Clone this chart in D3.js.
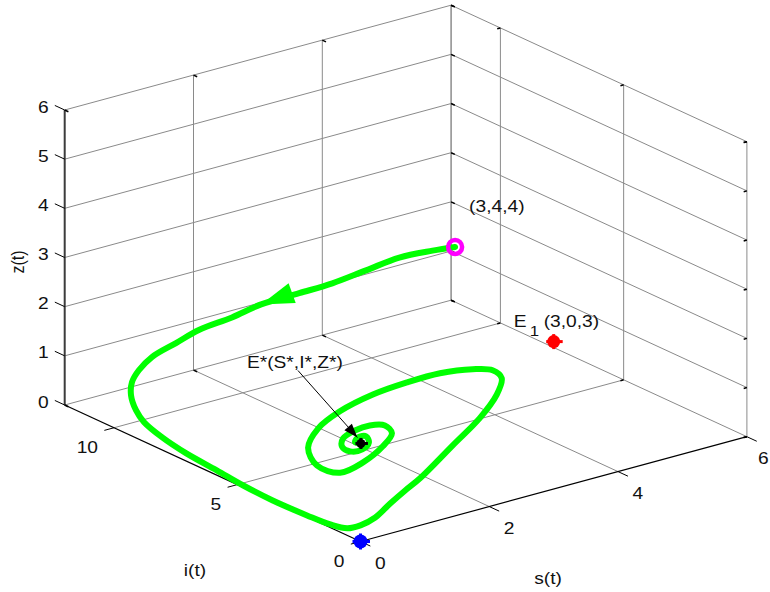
<!DOCTYPE html>
<html>
<head>
<meta charset="utf-8">
<title>trajectory</title>
<script src="https://cdn.jsdelivr.net/npm/d3@7/dist/d3.min.js"></script>
<style>
body { margin: 0; background: #fff; }
text { font-family: "Liberation Sans", Arial, Helvetica, sans-serif; font-size: 16px; fill: #111; }
</style>
</head>
<body>
<script>
var width = 770,
    height = 592;

// axis ticks
var sTicks = [0, 2, 4, 6],
    iTicks = [0, 5, 10],
    zTicks = [0, 1, 2, 3, 4, 5, 6];

// trajectory (s, i, z)
var sTraj = [3.00, 2.91, 2.75, 2.57, 2.33, 2.11, 1.76, 1.46, 1.13, 0.89, 0.62, 0.42, 0.31, 0.23, 0.15, 0.10,
             0.06, 0.04, 0.03, 0.01, 0.00, 0.02, 0.045, 0.12, 0.29, 0.57, 0.97, 1.31, 1.61, 2.42, 3.00, 3.39,
             3.54, 3.41, 3.08, 2.52, 1.95, 1.36, 0.89, 0.52, 0.38, 0.35, 0.53, 0.92, 1.35, 1.56, 1.50, 1.30,
             1.10, 0.89, 0.82, 0.85, 1.00, 1.16, 1.20, 1.10, 1.01, 1.04];
var iTraj = [4.00, 4.68, 5.61, 6.49, 7.23, 8.00, 8.63, 9.03, 9.51, 9.81, 10.08, 10.09, 10.08, 9.91, 9.50, 9.04,
             8.20, 7.17, 5.91, 4.80, 3.56, 2.22, 1.34, 0.85, 0.76, 0.89, 1.33, 1.61, 1.79, 2.58, 3.00, 3.34,
             3.52, 3.55, 3.50, 3.36, 3.21, 3.05, 3.16, 3.08, 3.12, 2.68, 2.21, 2.30, 2.62, 2.80, 2.93, 3.02,
             3.10, 3.03, 2.89, 2.64, 2.54, 2.69, 2.91, 2.97, 2.86, 2.70];
var zTraj = [4.00, 3.80, 3.50, 3.10, 2.75, 2.45, 2.20, 1.95, 1.70, 1.45, 1.20, 1.00, 0.80, 0.60, 0.42, 0.30,
             0.20, 0.12, 0.07, 0.03, 0.01, 0.01, 0.02, 0.03, 0.05, 0.08, 0.12, 0.20, 0.30, 0.50, 0.75, 1.00,
             1.25, 1.45, 1.60, 1.75, 1.80, 1.80, 1.60, 1.40, 1.05, 0.80, 0.70, 0.75, 0.85, 1.00, 1.15, 1.20,
             1.15, 1.08, 0.97, 0.92, 0.93, 0.98, 1.04, 1.04, 1.00, 1.00];

// special points
var startPt = [3, 4, 4],
    e1Pt = [3, 0, 3],
    e0Pt = [0, 0, 0],
    eStarPt = [1.04, 2.70, 1.00];
var arrowIndex = 6;

var svg = d3.select('body')
            .append('svg')
            .attr('width', width)
            .attr('height', height);

// projection of the box
var origin = [360.5, 541.5];
var sVec = [386.4, -104.8],
    iVec = [-295.8, -136.5],
    zVec = [0, -295];
var sScale = d3.scaleLinear().domain([0, 6]).range([0, 1]);
var iScale = d3.scaleLinear().domain([0, 12]).range([0, 1]);
var zScale = d3.scaleLinear().domain([0, 6]).range([0, 1]);

function proj(s, i, z){
	var a = sScale(s), b = iScale(i), c = zScale(z);
	return [origin[0] + a * sVec[0] + b * iVec[0] + c * zVec[0],
	        origin[1] + a * sVec[1] + b * iVec[1] + c * zVec[1]];
}

var stretch = 'scale(1.2,1)';

function seg(g, p, q, color, w){
	var a = proj(p[0], p[1], p[2]), b = proj(q[0], q[1], q[2]);
	g.append('line')
	 .attr('x1', a[0]).attr('y1', a[1])
	 .attr('x2', b[0]).attr('y2', b[1])
	 .attr('stroke', color)
	 .attr('stroke-width', w);
}

// grid
var grid = svg.append('g');
var gridColor = '#8a8a8a';
zTicks.forEach(function(z){
	seg(grid, [0, 12, z], [6, 12, z], gridColor, 1);
	seg(grid, [6, 0, z], [6, 12, z], gridColor, 1);
});
sTicks.forEach(function(s){
	if (s > 0) seg(grid, [s, 12, 0], [s, 12, 6], gridColor, 1);
	if (s > 0 && s < 6) seg(grid, [s, 0, 0], [s, 12, 0], gridColor, 1);
});
iTicks.concat([12]).forEach(function(i){
	seg(grid, [6, i, 0], [6, i, 6], gridColor, 1);
	if (i > 0 && i < 12) seg(grid, [0, i, 0], [6, i, 0], gridColor, 1);
});

// axes
var axes = svg.append('g');
seg(axes, [0, 0, 0], [6, 0, 0], '#000', 1.2);
seg(axes, [0, 0, 0], [0, 12, 0], '#000', 1.2);
seg(axes, [0, 12, 0], [0, 12, 6], '#3c3c3c', 2);

// tick marks
zTicks.forEach(function(z){
	seg(axes, [0, 12, z], [0, 12.4, z], '#000', 1);
	seg(axes, [6, 12, z], [6, 11.85, z], '#000', 1.5);
	seg(axes, [6, 0, z], [5.95, 0, z], '#000', 1.5);
});
sTicks.forEach(function(s){
	seg(axes, [s, 0, 0], [s, -0.4, 0], '#000', 1);
	seg(axes, [s, 12, 0], [s, 11.85, 0], '#000', 1.5);
	seg(axes, [s, 12, 6], [s, 11.85, 6], '#000', 1.5);
});
iTicks.forEach(function(i){
	seg(axes, [0, i, 0], [-0.15, i, 0], '#000', 1);
	seg(axes, [6, i, 0], [5.95, i, 0], '#000', 1.5);
	seg(axes, [6, i, 6], [5.95, i, 6], '#000', 1.5);
});

// tick labels
svg.append('g').selectAll('text')
   .data(zTicks).enter().append('text')
   .attr('transform', function(d){ var p = proj(0, 12, d); return 'translate(' + (p[0] - 16) + ',' + (p[1] - 3) + ') ' + stretch; })
   .attr('text-anchor', 'end')
   .attr('dy', '0.35em')
   .text(function(d){ return d; });
svg.append('g').selectAll('text')
   .data(iTicks).enter().append('text')
   .attr('transform', function(d){ var p = proj(0, d, 0); return 'translate(' + (p[0] - 16) + ',' + (p[1] + 20) + ') ' + stretch; })
   .attr('text-anchor', 'end')
   .attr('dy', '0.35em')
   .text(function(d){ return d; });
svg.append('g').selectAll('text')
   .data(sTicks).enter().append('text')
   .attr('transform', function(d){
		var p = proj(d, 0, 0);
		var x = Math.min(p[0] + 14.5, width - 12);
		return 'translate(' + x + ',' + (p[1] + 22) + ') ' + stretch; })
   .attr('text-anchor', 'start')
   .attr('dy', '0.35em')
   .text(function(d){ return d; });

// axis titles
svg.append('text')
   .attr('transform', 'translate(17,262) ' + stretch + ' rotate(-90)')
   .attr('text-anchor', 'middle').attr('dy', '0.35em')
   .text('z(t)');
svg.append('text')
   .attr('transform', 'translate(195,570) ' + stretch)
   .attr('text-anchor', 'middle').attr('dy', '0.35em')
   .text('i(t)');
svg.append('text')
   .attr('transform', 'translate(548,578) ' + stretch)
   .attr('text-anchor', 'middle').attr('dy', '0.35em')
   .text('s(t)');

// trajectory
var pts = sTraj.map(function(s, k){ return proj(s, iTraj[k], zTraj[k]); });
var line = d3.line().curve(d3.curveCatmullRom.alpha(0.5));
svg.append('path')
   .datum(pts)
   .attr('d', line)
   .attr('fill', 'none')
   .attr('stroke', '#00ff00')
   .attr('stroke-width', 6)
   .attr('stroke-linejoin', 'round')
   .attr('stroke-linecap', 'round');

// direction arrow on the trajectory
function arrowHead(tip, from, len, half){
	var dx = tip[0] - from[0], dy = tip[1] - from[1];
	var L = Math.sqrt(dx * dx + dy * dy);
	var ux = dx / L, uy = dy / L;
	var bx = tip[0] - ux * len, by = tip[1] - uy * len;
	return [tip, [bx - uy * half, by + ux * half], [bx + uy * half, by - ux * half]];
}
var prev = pts[arrowIndex - 1], next = pts[arrowIndex + 1], tip = pts[arrowIndex];
var ah = arrowHead(tip, [tip[0] - (next[0] - prev[0]), tip[1] - (next[1] - prev[1])], 33, 10.5);
svg.append('path')
   .attr('d', 'M' + ah.join('L') + 'Z')
   .attr('fill', '#00ff00');

// markers
function blob(p, color, r){
	var c = proj(p[0], p[1], p[2]);
	var g = svg.append('g').attr('transform', 'translate(' + c[0] + ',' + c[1] + ')');
	g.append('circle').attr('r', r).attr('fill', color);
	g.append('line').attr('x1', -r - 1).attr('x2', r + 2.5).attr('y1', 0).attr('y2', 0)
	 .attr('stroke', color).attr('stroke-width', 3);
	g.append('line').attr('x1', 0).attr('x2', 0).attr('y1', -r - 1).attr('y2', r + 1)
	 .attr('stroke', color).attr('stroke-width', 3);
	return c;
}
blob(e1Pt, '#ff0000', 6.5);
blob(e0Pt, '#0000ff', 7);
var es = blob(eStarPt, '#000', 4.5);

var sp = proj(startPt[0], startPt[1], startPt[2]);
svg.append('circle')
   .attr('cx', sp[0]).attr('cy', sp[1]).attr('r', 7)
   .attr('fill', 'none')
   .attr('stroke', '#ff00ff')
   .attr('stroke-width', 4.5);

// annotations
svg.append('text')
   .attr('transform', 'translate(' + (sp[0] + 14) + ',' + (sp[1] - 35) + ') ' + stretch)
   .text('(' + startPt.join(',') + ')');

var e1 = proj(e1Pt[0], e1Pt[1], e1Pt[2]);
svg.append('text')
   .attr('transform', 'translate(' + (e1[0] - 40) + ',' + (e1[1] - 15) + ') ' + stretch)
   .text('E');
svg.append('text')
   .attr('transform', 'translate(' + (e1[0] - 24) + ',' + (e1[1] - 6) + ') ' + stretch)
   .style('font-size', '14px')
   .text('1');
svg.append('text')
   .attr('transform', 'translate(' + (e1[0] - 10) + ',' + (e1[1] - 15) + ') ' + stretch)
   .text('(' + e1Pt.join(',') + ')');

svg.append('text')
   .attr('transform', 'translate(' + (es[0] - 114) + ',' + (es[1] - 75) + ') ' + stretch)
   .text('E*(S*,I*,Z*)');
var aStart = [es[0] - 63, es[1] - 73],
    aTip = [es[0] - 3.5, es[1] - 6];
var aHead = arrowHead(aTip, aStart, 14, 5);
svg.append('line')
   .attr('x1', aStart[0]).attr('y1', aStart[1])
   .attr('x2', aTip[0]).attr('y2', aTip[1])
   .attr('stroke', '#000').attr('stroke-width', 1);
svg.append('path')
   .attr('d', 'M' + aHead.join('L') + 'Z')
   .attr('fill', '#000');
</script>
</body>
</html>
